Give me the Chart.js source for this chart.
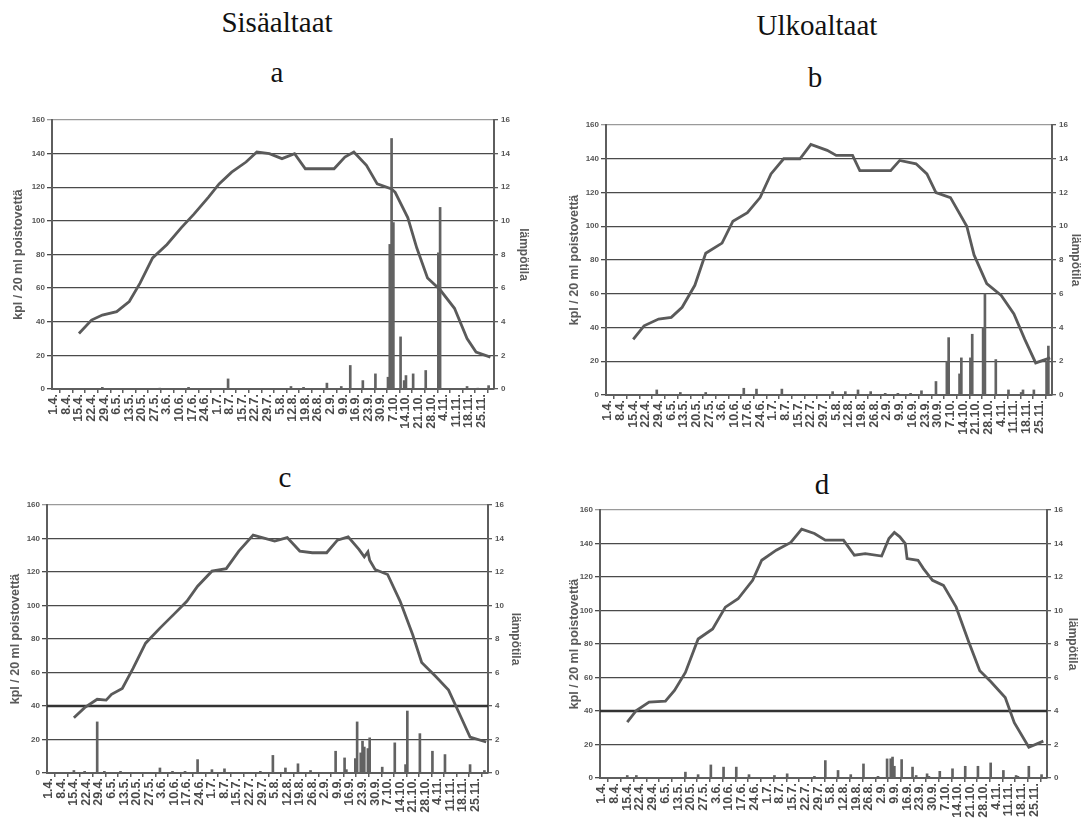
<!DOCTYPE html>
<html>
<head>
<meta charset="utf-8">
<script src="https://cdn.jsdelivr.net/npm/chart.js@4"></script>
<style>
  body { margin: 0; background: #fff; }
  #page { position: relative; width: 1083px; height: 819px; overflow: hidden; }
  .head { position: absolute; font-family: "Liberation Serif", "Times New Roman", serif; font-size: 29px;
          line-height: 1; color: #111; transform: translateX(-50%); white-space: nowrap; }
  .panel { position: absolute; }
</style>
</head>
<body>
<div id="page">
  <div class="head" style="left:277px; top:8px">Sisäaltaat</div>
  <div class="head" style="left:817px; top:11px">Ulkoaltaat</div>
  <div class="head" style="left:277px; top:58px">a</div>
  <div class="head" style="left:815px; top:63px">b</div>
  <div class="head" style="left:285px; top:463px">c</div>
  <div class="head" style="left:822px; top:470px">d</div>
  <canvas class="panel" id="chartA" width="540" height="355" style="left:0; top:100px"></canvas>
  <canvas class="panel" id="chartB" width="543" height="355" style="left:540px; top:100px"></canvas>
  <canvas class="panel" id="chartC" width="540" height="329" style="left:0; top:490px"></canvas>
  <canvas class="panel" id="chartD" width="543" height="329" style="left:540px; top:490px"></canvas>
</div>
<script>
// Week labels (day 0 = 1.4.)
const weekLabels = ['1.4.', '8.4.', '15.4.', '22.4.', '29.4.', '6.5.', '13.5.', '20.5.', '27.5.', '3.6.',
  '10.6.', '17.6.', '24.6.', '1.7.', '8.7.', '15.7.', '22.7.', '29.7.', '5.8.', '12.8.', '19.8.', '26.8.',
  '2.9.', '9.9.', '16.9.', '23.9.', '30.9.', '7.10.', '14.10.', '21.10.', '28.10.', '4.11.', '11.11.',
  '18.11.', '25.11.'];
const countTicks = [0, 20, 40, 60, 80, 100, 120, 140, 160];
const tempTicks = [0, 2, 4, 6, 8, 10, 12, 14, 16];

// a: Sisäaltaat
const tempDaysA = [14, 21, 27, 35, 42, 48, 55, 63, 71, 78, 86, 92, 99, 107, 113, 120, 127, 134, 140, 156,
  162, 167, 174, 180, 188, 190, 197, 202, 208, 215, 223, 230, 235, 243];
const tempA = [3.3, 4.1, 4.4, 4.6, 5.2, 6.3, 7.8, 8.6, 9.6, 10.4, 11.4, 12.2, 12.9, 13.5, 14.1, 14.0, 13.7,
  14.0, 13.1, 13.1, 13.8, 14.1, 13.3, 12.2, 11.9, 11.7, 10.2, 8.4, 6.6, 5.9, 4.8, 3.0, 2.2, 1.9];
const barDaysA = [27, 59, 75, 97, 132, 139, 152, 160, 165, 172, 179, 186, 187, 188, 189, 193, 195, 196,
  200, 207, 214, 215, 230, 236, 242];
const barA = [1, 0.5, 1, 6, 1.5, 1, 3.5, 1.5, 14, 5, 9, 7, 86, 149, 99, 31, 5, 8, 9, 11, 81, 108, 1.5, 0.5, 2];

// b: Ulkoaltaat
const tempDaysB = [14, 20, 28, 35, 41, 48, 54, 63, 69, 77, 84, 90, 97, 106, 112, 121, 126, 135, 139, 156,
  161, 170, 176, 181, 189, 198, 202, 209, 217, 224, 230, 236, 244];
const tempB = [3.3, 4.1, 4.5, 4.6, 5.2, 6.5, 8.4, 9.0, 10.3, 10.8, 11.7, 13.1, 14.0, 14.0, 14.85, 14.5,
  14.2, 14.2, 13.3, 13.3, 13.9, 13.7, 13.1, 12.0, 11.7, 10.0, 8.3, 6.6, 5.9, 4.8, 3.3, 1.9, 2.2];
const barDaysB = [27, 40, 54, 75, 82, 96, 124, 131, 138, 145, 153, 160, 167, 173, 181, 187, 188, 194, 195,
  200, 201, 207, 208, 214, 221, 228, 229, 235, 242, 243];
const barB = [3, 1.5, 1.5, 4, 3.5, 3.5, 2, 2, 3, 2, 1, 1, 1, 2.5, 8, 20, 34, 12.5, 22, 22, 36, 40, 60, 21,
  3, 1.5, 3, 3, 20, 29];

// c: Sisäaltaat, raja-arvo 40
const tempDaysC = [14, 20, 27, 32, 35, 41, 47, 54, 62, 70, 77, 83, 91, 99, 106, 114, 126, 133, 140, 147,
  155, 161, 167, 173, 176, 178, 179, 182, 189, 196, 203, 208, 216, 223, 229, 235, 244];
const tempC = [3.3, 3.9, 4.4, 4.35, 4.7, 5.05, 6.25, 7.75, 8.65, 9.5, 10.25, 11.15, 12.05, 12.2, 13.25,
  14.2, 13.85, 14.05, 13.25, 13.15, 13.15, 13.9, 14.1, 13.35, 12.9, 13.2, 12.7, 12.15, 11.85, 10.25, 8.25,
  6.6, 5.75, 4.95, 3.55, 2.15, 1.85];
const barDaysC = [14, 20, 27, 31, 40, 62, 69, 76, 83, 91, 98, 118, 125, 132, 139, 146, 160, 165, 166, 171,
  172, 174, 175, 176, 178, 179, 186, 193, 199, 200, 207, 214, 221, 235, 243];
const barC = [1.5, 1, 30.5, 1, 1, 3, 1, 1, 8, 2, 2.5, 1, 10.5, 3, 5.5, 1.5, 13, 9, 2, 8.6, 30.5, 12, 19,
  15.5, 14.6, 21, 3.5, 18, 5, 37, 23.5, 13, 11, 5, 1.5];
const limitC = 40;

// d: Ulkoaltaat, raja-arvo 40
const tempDaysD = [14, 19, 26, 35, 40, 46, 53, 61, 68, 75, 83, 88, 96, 104, 110, 117, 123, 133, 139, 145,
  154, 158, 161, 164, 167, 168, 174, 177, 182, 188, 195, 202, 208, 214, 222, 227, 235, 243];
const tempD = [3.33, 4.03, 4.53, 4.59, 5.23, 6.3, 8.3, 8.9, 10.2, 10.7, 11.8, 13.0, 13.6, 14.06, 14.86,
  14.6, 14.2, 14.2, 13.3, 13.4, 13.25, 14.3, 14.66, 14.4, 14.0, 13.1, 13.0, 12.5, 11.8, 11.5, 10.2, 8.1,
  6.4, 5.76, 4.8, 3.3, 1.84, 2.2];
const barDaysD = [14, 19, 46, 53, 60, 67, 74, 81, 95, 102, 117, 123, 130, 137, 144, 152, 157, 159, 160, 161,
  165, 171, 173, 179, 180, 186, 193, 200, 207, 214, 221, 228, 229, 235, 242];
const barD = [1.5, 1.5, 3.5, 2, 7.8, 6.5, 6.5, 2, 1.5, 2.5, 1, 10.4, 4.5, 2, 8.4, 1, 11.4, 11.5, 12.5, 7,
  11, 6.5, 1.5, 2.5, 1, 4, 5.5, 7, 7, 9, 4.5, 1.5, 1, 7, 2];
const limitD = 40;

const dayMin = -1, dayMax = 245;
const ink = '#5e5e5e';

Chart.defaults.font.family = '"Liberation Sans", Arial, sans-serif';
Chart.defaults.font.weight = 'bold';
Chart.defaults.color = '#555';

function pairs(xs, ys) {
  return xs.map((x, i) => ({ x: x, y: ys[i] }));
}

// box: yl/yr = axis widths, pt = top padding, xh = x axis height, tl/tr = title offsets
function makePanel(id, tempDays, temps, barDays, bars, limit, box) {
  const datasets = [
    {
      type: 'line', data: pairs(tempDays, temps), yAxisID: 'y2', order: 0,
      borderColor: '#5a5a5a', borderWidth: 2.8, pointRadius: 0, tension: 0
    },
    {
      type: 'bar', data: pairs(barDays, bars), yAxisID: 'y', order: 2,
      backgroundColor: '#626262', barThickness: 2
    }
  ];
  if (limit != null) {
    datasets.push({
      type: 'line', data: [{ x: dayMin, y: limit }, { x: dayMax, y: limit }], yAxisID: 'y', order: 1,
      borderColor: '#333', borderWidth: 2.6, pointRadius: 0
    });
  }

  new Chart(document.getElementById(id), {
    type: 'bar',
    data: { datasets: datasets },
    options: {
      responsive: false,
      animation: false,
      layout: { padding: { top: box.pt, left: 0, right: 0, bottom: 0 } },
      plugins: { legend: { display: false }, tooltip: { enabled: false } },
      scales: {
        x: {
          type: 'linear', min: dayMin, max: dayMax, offset: false,
          afterFit: s => { s.height = box.xh; },
          afterBuildTicks: s => { s.ticks = weekLabels.map((_, i) => ({ value: i * 7 })); },
          ticks: {
            autoSkip: false, minRotation: 90, maxRotation: 90, padding: 1,
            font: { size: 12.5, weight: 'bold' }, color: '#4a4a4a',
            callback: v => weekLabels[Math.round(v / 7)]
          },
          grid: { drawOnChartArea: false, tickLength: 4, color: ink, lineWidth: 1.5 },
          border: { color: ink, width: 2 }
        },
        y: {
          position: 'left', min: 0, max: 160,
          afterFit: s => { s.width = box.yl; },
          afterBuildTicks: s => { s.ticks = countTicks.map(v => ({ value: v })); },
          ticks: { font: { size: 8, weight: 'bold' }, color: '#555', padding: 2 },
          grid: {
            color: c => c.tick && c.tick.value === 160 ? '#9a9a9a' : '#4a4a4a',
            lineWidth: 1.3, tickLength: 5
          },
          border: { color: ink, width: 2 },
          title: {
            display: true, text: 'kpl / 20 ml poistovettä', color: '#5a5a5a',
            font: { size: 12.5, weight: 'bold' }, padding: { top: box.tl, bottom: 0 }
          }
        },
        y2: {
          position: 'right', min: 0, max: 16,
          afterFit: s => { s.width = box.yr; },
          afterBuildTicks: s => { s.ticks = tempTicks.map(v => ({ value: v })); },
          ticks: { font: { size: 8, weight: 'bold' }, color: '#555', padding: 3 },
          grid: { drawOnChartArea: false, color: ink, tickLength: 4, lineWidth: 1.3 },
          border: { color: ink, width: 2 },
          title: {
            display: true, text: 'lämpötila', color: '#5a5a5a',
            font: { size: 12, weight: 'bold' }, padding: { top: box.tr, bottom: 0 }
          }
        }
      }
    }
  });
}

makePanel('chartA', tempDaysA, tempA, barDaysA, barA, null, { yl: 52, yr: 46, pt: 20, xh: 66, tl: 11, tr: 9 });
makePanel('chartB', tempDaysB, tempB, barDaysB, barB, null, { yl: 66, yr: 31, pt: 25, xh: 60, tl: 27, tr: 0 });
makePanel('chartC', tempDaysC, tempC, barDaysC, barC, limitC, { yl: 47, yr: 52, pt: 15, xh: 46, tl: 8, tr: 17 });
makePanel('chartD', tempDaysD, tempD, barDaysD, barD, limitD, { yl: 60, yr: 36, pt: 20, xh: 41, tl: 27, tr: 3 });
</script>
</body>
</html>
